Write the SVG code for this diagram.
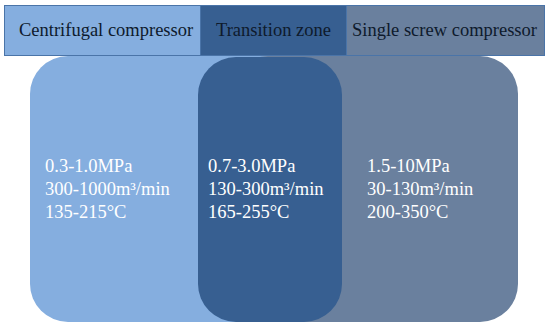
<svg xmlns="http://www.w3.org/2000/svg" width="550" height="326" viewBox="0 0 550 326">
<style>
.hdr{font-family:"Liberation Serif","Times New Roman",serif;font-size:18.5px;fill:#0e1a2c}
.val{font-family:"Liberation Serif","Times New Roman",serif;font-size:18.5px;fill:#ffffff}
.bar{stroke:#4a74a8;stroke-width:1}
.light{fill:#85aedf}
.dark{fill:#375f91}
.gray{fill:#6a809e}
</style>
<rect width="550" height="326" fill="#ffffff"/>
<g id="header">
<g id="h-centrifugal"><rect class="bar light" x="4.5" y="5.5" width="196" height="50"/><text class="hdr" x="19" y="36">Centrifugal compressor</text></g>
<g id="h-transition"><rect class="bar dark" x="200.5" y="5.5" width="146" height="50"/><text class="hdr" x="216" y="36">Transition zone</text></g>
<g id="h-screw"><rect class="bar gray" x="346.5" y="5.5" width="198" height="50"/><text class="hdr" x="352" y="36">Single screw compressor</text></g>
</g>
<g id="zone-centrifugal"><rect class="light" x="30" y="56" width="290" height="266" rx="38" ry="38"/>
<text class="val" x="45" y="172">0.3-1.0MPa</text><text class="val" x="45" y="195">300-1000m³/min</text><text class="val" x="45" y="218">135-215°C</text></g>
<g id="zone-screw"><rect class="gray" x="230" y="56" width="288" height="266" rx="38" ry="38"/>
<text class="val" x="367" y="172">1.5-10MPa</text><text class="val" x="367" y="195">30-130m³/min</text><text class="val" x="367" y="218">200-350°C</text></g>
<g id="zone-transition"><rect class="dark" x="198" y="57" width="144" height="265" rx="38" ry="38"/>
<text class="val" x="208" y="172">0.7-3.0MPa</text><text class="val" x="208" y="195">130-300m³/min</text><text class="val" x="208" y="218">165-255°C</text></g>
<g id="connectors"/>
</svg>
